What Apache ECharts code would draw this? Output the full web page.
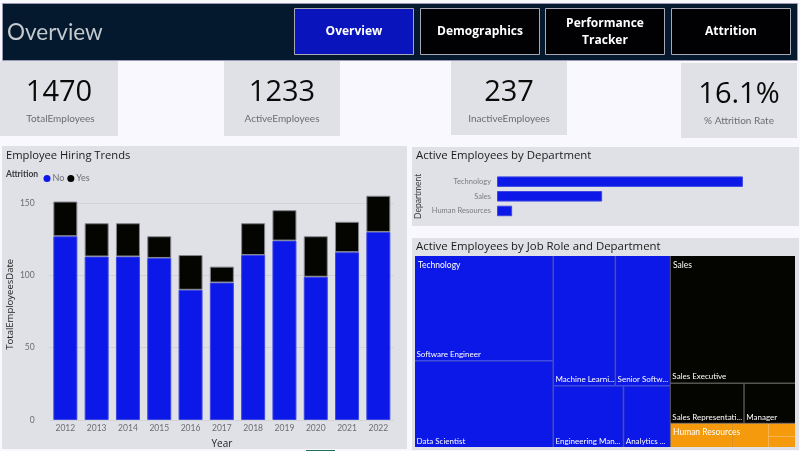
<!DOCTYPE html>
<html>
<head>
<meta charset="utf-8">
<style>
  html, body { margin: 0; padding: 0; background: #f8f8fe; }
  #chart { width: 800px; height: 451px; }
</style>
<script src="https://cdn.jsdelivr.net/npm/echarts@6/dist/echarts.min.js"></script>
</head>
<body>
<div id="chart"></div>
<script>
const FONT = '"Open Sans", "Noto Sans", sans-serif';
const SMALL_FONT = 'Lato, "Open Sans", sans-serif';
const BLUE = '#0c18e8';
const BLACK = '#040400';
const ORANGE = '#f59a0c';

const years = ['2012', '2013', '2014', '2015', '2016', '2017', '2018', '2019', '2020', '2021', '2022'];
const attritionNo = [127, 113, 113, 112, 90, 95, 114, 124, 99, 116, 130];
const attritionYes = [24, 23, 23, 15, 24, 11, 22, 21, 28, 21, 25];

const departments = ['Technology', 'Sales', 'Human Resources'];
const departmentActive = [828, 354, 51];

const techRoles = ['Software Engineer', 'Data Scientist', 'Machine Learning Engineer', 'Senior Software Engineer', 'Engineering Manager', 'Analytics Manager'];
const techValues = [246, 203, 136, 121, 73, 49];
const salesRoles = ['Sales Executive', 'Sales Representative', 'Manager'];
const salesValues = [269, 50, 35];
const hrRoles = ['HR Executive', 'HR Business Partner', 'HR Manager', 'Recruiter'];
const hrValues = [25, 15, 6, 5];

const kpiValues = ['1470', '1233', '237', '16.1%'];
const kpiNames = ['TotalEmployees', 'ActiveEmployees', 'InactiveEmployees', '% Attrition Rate'];
const navLabels = ['Overview', 'Demographics', 'Performance\nTracker', 'Attrition'];

const rect = (x, y, width, height, fill, stroke, z) => ({
  type: 'rect', z: z || 0, silent: true,
  shape: { x, y, width, height },
  style: { fill, stroke: stroke || null, lineWidth: stroke ? 1 : 0 }
});
const text = (x, y, str, size, fill, extra) => ({
  type: 'text', z: 10, silent: true, x, y,
  style: Object.assign({ text: str, fontSize: size, fill, fontFamily: FONT, verticalAlign: 'middle', align: 'left' }, extra)
});

const graphics = [];
// header
graphics.push(rect(2.5, 3.5, 795, 57, '#04182e', '#9a9ab8'));
graphics.push(text(7, 33, 'Overview', 22.5, '#c4c9ce', { fontFamily: SMALL_FONT }));
[294, 420, 545, 671].forEach((x, i) => {
  graphics.push(rect(x + 0.5, 8.5, 119, 46, i === 0 ? '#0a14bc' : '#010104', '#a8a8b4', 1));
  graphics.push(text(x + 60, 32, navLabels[i], 12, '#ffffff', { align: 'center', fontWeight: 'bold', lineHeight: 17 }));
});
// kpi cards
const cards = [[0, 61, 118, 75], [224, 61, 116, 75], [451, 61, 116, 74], [681, 63, 116, 75]];
cards.forEach((c, i) => {
  graphics.push(rect(c[0], c[1], c[2], c[3], '#e0e1e6'));
  graphics.push(text(c[0] + c[2] / 2, c[1] + 32, kpiValues[i], 29, '#0a0a0a', { align: 'center' }));
  graphics.push(text(c[0] + c[2] / 2 + (i === 0 ? 1.5 : 0), c[1] + 58, kpiNames[i], 10, '#6b6d72', { align: 'center', fontFamily: SMALL_FONT }));
});
// panels
graphics.push(rect(2, 146, 405, 303, '#e0e1e6'));
graphics.push(rect(412, 147, 387, 79, '#e0e1e6'));
graphics.push(rect(412, 238, 387, 212, '#e0e1e6'));
graphics.push(text(6, 155.5, 'Employee Hiring Trends', 11.2, '#1a1a1a'));
graphics.push(text(416, 155.5, 'Active Employees by Department', 11.4, '#1a1a1a'));
graphics.push(text(416, 246.5, 'Active Employees by Job Role and Department', 11.4, '#1a1a1a'));
graphics.push(text(6, 174.5, 'Attrition', 8.5, '#3a3c40', { fontWeight: 'bold', fontFamily: SMALL_FONT }));
// department names over the treemap
graphics.push(text(418, 265, departments[0], 8.5, '#ffffff', { fontFamily: SMALL_FONT }));
graphics.push(text(673, 265, departments[1], 8.5, '#ffffff', { fontFamily: SMALL_FONT }));
graphics.push(text(673, 432, departments[2], 8.5, '#ffffff', { fontFamily: SMALL_FONT }));
// bottom page tab
graphics.push(rect(306, 450, 29, 1, '#1f6f5c'));

const leaves = (names, values, color) => names.map((name, i) => ({
  name, value: values[i], itemStyle: { color, borderWidth: 0 }
}));
const treeData = [
  { name: departments[0], itemStyle: { borderColor: '#3c48f0', gapWidth: 1.5, borderWidth: 0 }, children: leaves(techRoles, techValues, BLUE) },
  { name: departments[1], itemStyle: { borderColor: '#55554f', gapWidth: 1.5, borderWidth: 0 }, children: leaves(salesRoles, salesValues, BLACK) },
  { name: departments[2], itemStyle: { borderColor: '#f8b450', gapWidth: 1, borderWidth: 0 }, label: { show: false }, children: leaves(hrRoles, hrValues, ORANGE).map(d => Object.assign(d, { label: { show: false } })) }
];

const chart = echarts.init(document.getElementById('chart'), null, { renderer: 'canvas' });
chart.setOption({
  animation: false,
  backgroundColor: '#f8f8fe',
  textStyle: { fontFamily: FONT },
  graphic: { elements: graphics },
  legend: {
    left: 38.5, top: 169, itemWidth: 7, itemHeight: 7, itemGap: 3,
    icon: 'circle', selectedMode: false,
    itemStyle: { borderWidth: 0 },
    textStyle: { fontSize: 9, color: '#6b6d72', fontFamily: SMALL_FONT, padding: [0, 0, 0, -3] },
    data: ['No', 'Yes']
  },
  grid: [
    { left: 49.7, top: 188.5, width: 344.3, height: 231.5, outerBoundsMode: 'none' },
    { left: 497, top: 174.3, width: 297, height: 44, outerBoundsMode: 'none' }
  ],
  xAxis: [
    {
      gridIndex: 0, type: 'category', data: years,
      name: 'Year', nameLocation: 'middle', nameGap: 19, nameMoveOverlap: false,
      nameTextStyle: { fontSize: 10, color: '#222' },
      axisLine: { show: false }, axisTick: { show: false },
      axisLabel: { fontSize: 8.5, color: '#6b6d72', fontFamily: SMALL_FONT, margin: 4 }
    },
    { gridIndex: 1, type: 'value', min: 0, max: 1000, show: false }
  ],
  yAxis: [
    {
      gridIndex: 0, type: 'value', min: 0, max: 160, interval: 50,
      name: 'TotalEmployeesDate', nameLocation: 'middle', nameGap: 34, nameMoveOverlap: false,
      nameTextStyle: { fontSize: 9.5, color: '#222' },
      axisLabel: { fontSize: 8.5, color: '#6b6d72', fontFamily: SMALL_FONT, showMaxLabel: false, margin: 15 },
      axisLine: { show: false }, axisTick: { show: false },
      splitLine: { showMaxLine: false, lineStyle: { type: 'dotted', color: '#c4c5cb' } }
    },
    {
      gridIndex: 1, type: 'category', data: departments, inverse: true,
      name: 'Department', nameLocation: 'middle', nameGap: 74, nameMoveOverlap: false,
      nameTextStyle: { fontSize: 8.5, color: '#3a3c40', fontFamily: SMALL_FONT },
      axisLine: { show: false }, axisTick: { show: false },
      axisLabel: { fontSize: 7.5, color: '#7a7c82', fontFamily: SMALL_FONT, margin: 6 }
    }
  ],
  series: [
    {
      name: 'No', type: 'bar', stack: 'total', xAxisIndex: 0, yAxisIndex: 0,
      barWidth: 24, data: attritionNo,
      itemStyle: { color: BLUE, borderColor: '#3b46e4', borderWidth: 1 }
    },
    {
      name: 'Yes', type: 'bar', stack: 'total', xAxisIndex: 0, yAxisIndex: 0,
      barWidth: 24, data: attritionYes,
      itemStyle: { color: BLACK, borderColor: '#85868c', borderWidth: 1 }
    },
    {
      type: 'bar', xAxisIndex: 1, yAxisIndex: 1, barWidth: 10.5, data: departmentActive,
      itemStyle: { color: BLUE, borderColor: '#3b46e4', borderWidth: 1 }
    },
    {
      type: 'treemap', left: 415, top: 256, width: 380, height: 191,
      roam: false, nodeClick: false, breadcrumb: { show: false },
      itemStyle: { borderWidth: 0, gapWidth: 1, borderColor: '#5a5a70' },
      label: {
        show: true, position: 'insideBottomLeft', color: '#ffffff',
        fontSize: 8, fontFamily: SMALL_FONT, overflow: 'truncate', ellipsis: '...', padding: 0, distance: 1.5
      },
      upperLabel: { show: false },
      data: treeData
    }
  ]
});
</script>
</body>
</html>
